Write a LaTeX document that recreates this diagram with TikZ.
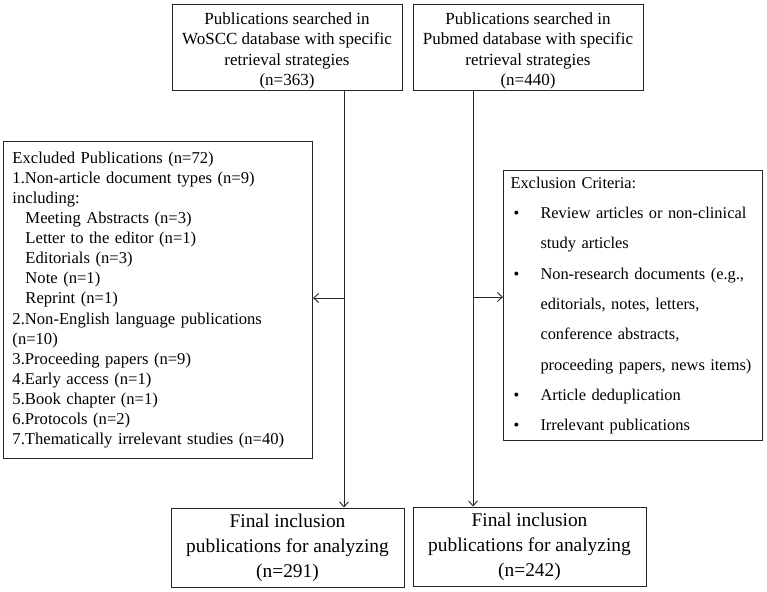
\documentclass[tikz,border=0pt]{standalone}
\usepackage{fontspec}
\setmainfont{Liberation Serif}
\usetikzlibrary{arrows.meta}
\begin{document}
\begin{tikzpicture}[x=1pt,y=-1pt,
  box/.style={draw=black!85, line width=1pt, inner sep=0pt},
  arr/.style={draw=black!85, line width=0.9pt, -{Straight Barb[length=5pt,width=9pt]}},
  topfont/.style={font=\fontsize{17}{20.6}\selectfont},
  midfont/.style={font=\fontsize{16.6}{20.1}\selectfont},
  botfont/.style={font=\fontsize{19.4}{25}\selectfont}]
\useasboundingbox[fill=white] (0,0) rectangle (767,591);
\node[box, minimum width=230pt, minimum height=86pt] (w) at (287,48) {};
\node[topfont, align=center, inner sep=0pt] (wt) at (287,51)
  {Publications searched in\\WoSCC database with specific\\retrieval strategies\\(n=363)};
\node[box, minimum width=230pt, minimum height=86pt] (p) at (528,48) {};
\node[topfont, align=center, inner sep=0pt] (pt) at (528,51)
  {Publications searched in\\Pubmed database with specific\\retrieval strategies\\(n=440)};
\node[box, midfont, anchor=north west, minimum width=309pt, minimum height=317pt,
  text width=291pt, inner xsep=9pt, align=left] (ex) at (3,141)
  {Excluded Publications (n=72)\\
   1.Non-article document types (n=9)\\
   including:\\
   \hspace*{13pt}Meeting Abstracts (n=3)\\
   \hspace*{13pt}Letter to the editor (n=1)\\
   \hspace*{13pt}Editorials (n=3)\\
   \hspace*{13pt}Note (n=1)\\
   \hspace*{13pt}Reprint (n=1)\\
   2.Non-English language publications\\
   (n=10)\\
   3.Proceeding papers (n=9)\\
   4.Early access (n=1)\\
   5.Book chapter (n=1)\\
   6.Protocols (n=2)\\
   7.Thematically irrelevant studies (n=40)};
\node[box, anchor=north west, minimum width=259pt, minimum height=270pt,
  text width=245pt, inner xsep=7pt, align=left,
  font=\fontsize{16.4}{30.3}\selectfont] (cr) at (503,170)
  {Exclusion Criteria:\\
   \makebox[30pt][l]{\hspace{3pt}•}Review articles or non-clinical\\
   \hspace*{30pt}study articles\\
   \makebox[30pt][l]{\hspace{3pt}•}Non-research documents (e.g.,\\
   \hspace*{30pt}editorials, notes, letters,\\
   \hspace*{30pt}conference abstracts,\\
   \hspace*{30pt}proceeding papers, news items)\\
   \makebox[30pt][l]{\hspace{3pt}•}Article deduplication\\
   \makebox[30pt][l]{\hspace{3pt}•}Irrelevant publications};
\node[box, botfont, align=center, minimum width=233pt, minimum height=79pt] (f1) at (287.5,547.5)
  {Final inclusion\\publications for analyzing\\(n=291)};
\node[box, botfont, align=center, minimum width=233pt, minimum height=79pt] (f2) at (529.5,546.5)
  {Final inclusion\\publications for analyzing\\(n=242)};
\coordinate (a1) at (344,298);
\coordinate (a2) at (473,297);
\draw[arr] (w.south -| a1) -- (f1.north -| a1);
\draw[arr] (p.south -| a2) -- (f2.north -| a2);
\draw[arr] (a1) -- (a1 -| ex.east);
\draw[arr] (a2) -- (a2 -| cr.west);
\end{tikzpicture}
\end{document}
